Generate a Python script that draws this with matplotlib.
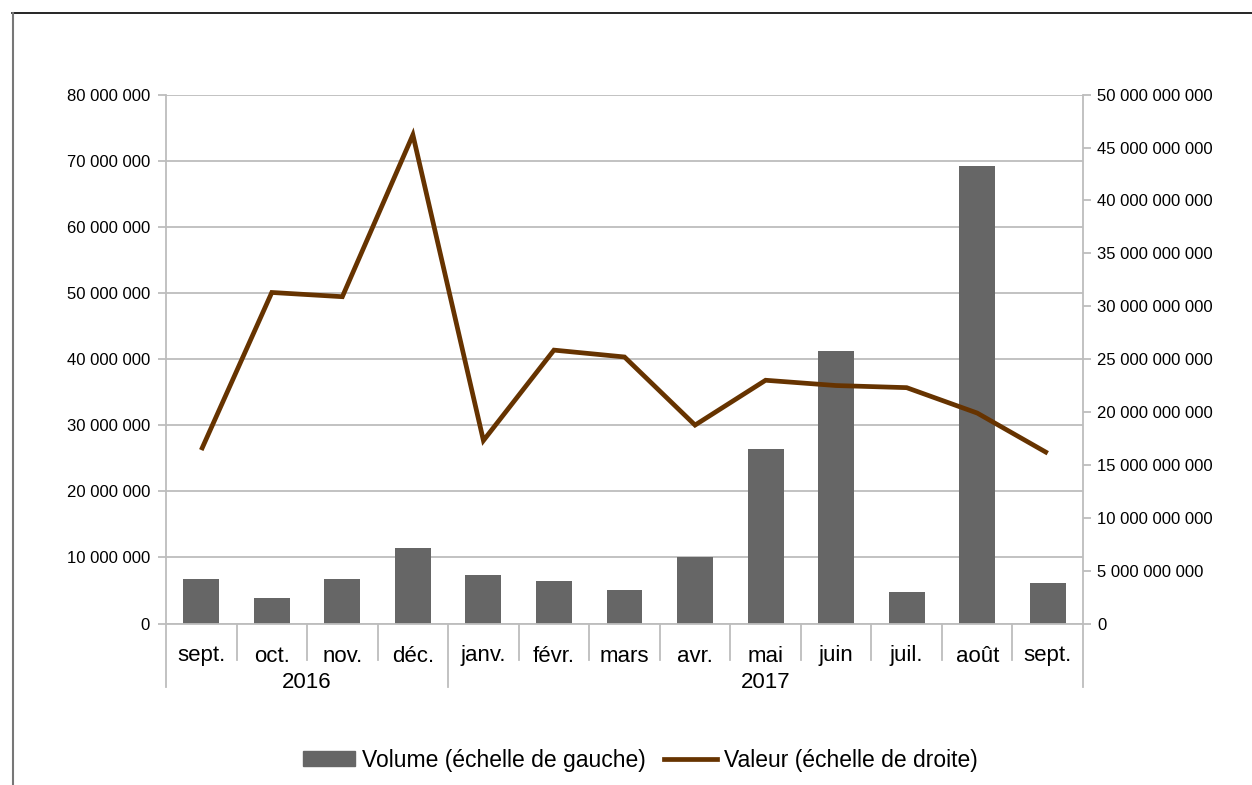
import matplotlib
matplotlib.use("Agg")
import matplotlib.pyplot as plt
from matplotlib.ticker import FuncFormatter
from matplotlib.lines import Line2D
from matplotlib.patches import Patch

plt.rcParams['font.family'] = ['Liberation Sans', 'DejaVu Sans']

# data
months = ["sept.", "oct.", "nov.", "déc.", "janv.", "févr.", "mars",
          "avr.", "mai", "juin", "juil.", "août", "sept."]
years = ["2016", "2017"]
year_counts = [4, 9]
volume = [6.7e6, 3.86e6, 6.7e6, 11.4e6, 7.34e6, 6.43e6, 5.07e6,
          10.06e6, 26.4e6, 41.2e6, 4.77e6, 69.2e6, 6.1e6]
valeur = [16.4e9, 31.3e9, 30.9e9, 46.2e9, 17.3e9, 25.85e9, 25.2e9,
          18.76e9, 23.0e9, 22.5e9, 22.3e9, 19.9e9, 16.1e9]

grid_col = "#bdbdbd"
bar_col = "#666666"
line_col = "#663300"


def fr_fmt(v, pos):
    return f"{int(round(v)):,}".replace(",", " ")


fig = plt.figure(figsize=(12.52, 7.85), dpi=100)
ax = fig.add_axes([166 / 1252, 1 - 623.5 / 785, (1083 - 166) / 1252, (623.5 - 94.7) / 785])
ax2 = ax.twinx()

x = list(range(len(months)))
ax.bar(x, volume, width=0.51, color=bar_col, zorder=2)
ax2.plot(x, valeur, color=line_col, lw=3.4, solid_joinstyle='miter',
         solid_capstyle='butt', zorder=3)

ax.set_xlim(-0.5, len(months) - 0.5)
ax.set_ylim(0, 80e6)
ax.set_yticks([i * 10e6 for i in range(9)])
ax2.set_ylim(0, 50e9)
ax2.set_yticks([i * 5e9 for i in range(11)])
ax.yaxis.set_major_formatter(FuncFormatter(fr_fmt))
ax2.yaxis.set_major_formatter(FuncFormatter(fr_fmt))

ax.grid(axis='y', color=grid_col, lw=1.3, zorder=0)
ax.set_axisbelow(True)
for a in (ax, ax2):
    for s in a.spines.values():
        s.set_visible(False)
    a.tick_params(axis='y', length=5.8, width=1.3, color=grid_col,
                  labelsize=12, labelcolor="#000000")
ax.tick_params(axis='y', pad=5.8)
ax2.tick_params(axis='y', pad=4.3)
ax.spines['bottom'].set_visible(True)
ax.spines['bottom'].set_color(grid_col)
ax.spines['bottom'].set_linewidth(1.3)
ax.set_xticks([])

# category axis with two levels
trans = ax.get_xaxis_transform()
short_y = -(660 - 623.5) / 528.8
long_y = -(687 - 623.5) / 528.8
bounds = [-0.5]
for c in year_counts:
    bounds.append(bounds[-1] + c)
for i in range(len(months) + 1):
    xb = i - 0.5
    top = 1.0 if xb in (-0.5, len(months) - 0.5) else 0.0
    bot = long_y if xb in bounds else short_y
    ax.plot([xb, xb], [top, bot], color=grid_col, lw=1.3, transform=trans,
            clip_on=False, zorder=1)
for i, m in enumerate(months):
    ax.text(i, -(656 - 623.5) / 528.8, m, transform=trans, ha='center',
            va='center', fontsize=16)
for j, yr in enumerate(years):
    ax.text((bounds[j] + bounds[j + 1]) / 2, -(682 - 623.5) / 528.8, yr,
            transform=trans, ha='center', va='center', fontsize=16)

# legend
handles = [Patch(facecolor=bar_col, edgecolor=bar_col),
           Line2D([0], [0], color=line_col, lw=3.4)]
fig.legend(handles, ["Volume (échelle de gauche)", "Valeur (échelle de droite)"],
           loc='center', bbox_to_anchor=(640 / 1252, 1 - 760 / 785), ncol=2,
           frameon=False, fontsize=16.5, handlelength=2.3, handleheight=0.65,
           handletextpad=0.3, columnspacing=0.8)

# partial frame
fig.add_artist(Line2D([12 / 1252, 1], [1 - 12.5 / 785] * 2, color="#000000",
                      lw=1.2, transform=fig.transFigure))
fig.add_artist(Line2D([12.5 / 1252] * 2, [0, 1 - 12.5 / 785], color="#777777",
                      lw=1.5, transform=fig.transFigure))

fig.savefig("out.png", dpi=100)
